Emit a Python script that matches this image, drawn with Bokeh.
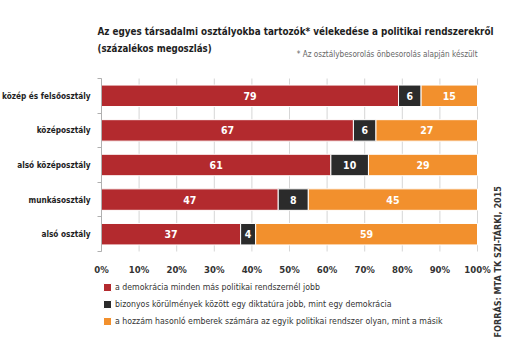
import math
from bokeh.plotting import figure
from bokeh.models import (Range1d, FixedTicker, Label, Legend, LegendItem, LinearAxis,
                          ColumnDataSource)
from bokeh.embed import file_html
from bokeh.resources import INLINE
from bokeh.core.properties import value

# ---- data ----
categories = ["közép és felsőosztály", "középosztály", "alsó középosztály",
              "munkásosztály", "alsó osztály"]
democracy = [79, 67, 61, 47, 37]
dictatorship = [6, 6, 10, 8, 4]
indifferent = [15, 27, 29, 45, 59]
series_names = [
    "a demokrácia minden más politikai rendszernél jobb",
    "bizonyos körülmények között egy diktatúra jobb, mint egy demokrácia",
    "a hozzám hasonló emberek számára az egyik politikai rendszer olyan, mint a másik",
]
x_ticks = [0, 10, 20, 30, 40, 50, 60, 70, 80, 90, 100]
tick_labels = ["0%", "10%", "20%", "30%", "40%", "50%", "60%", "70%", "80%", "90%", "100%"]
title_line1 = "Az egyes társadalmi osztályokba tartozók* vélekedése a politikai rendszerekről"
title_line2 = "(százalékos megoszlás)"
footnote = "* Az osztálybesorolás önbesorolás alapján készült"
source_note = "FORRÁS: MTA TK SZI-TÁRKI, 2015"

# ---- style / layout ----
colors = ["#b32a2e", "#2b2b2b", "#f2902d"]
FONT = "DejaVu Sans Condensed"
TXT = "#1e1e1e"
W, H = 510, 350
PLOT_L, PLOT_R, PLOT_T, PLOT_B = 101, 477, 78, 251   # pixel box of the bar area
n = len(categories)
ux = (PLOT_R - PLOT_L) / 100.0
uy = (PLOT_B - PLOT_T) / n

ypos = [n - 0.5 - i for i in range(n)]  # first category on top
keys = ["dem", "dic", "ind"]
src = ColumnDataSource(dict(y=ypos, dem=democracy, dic=dictatorship, ind=indifferent))

p = figure(width=W, height=H,
           x_range=Range1d(-PLOT_L / ux, 100 + (W - PLOT_R) / ux),
           y_range=Range1d(-(H - PLOT_B) / uy, n + PLOT_T / uy),
           x_axis_location=None, y_axis_location=None,
           output_backend="svg", toolbar_location=None, min_border=0)
p.outline_line_color = None
p.xgrid.grid_line_color = None
p.ygrid.grid_line_color = None

# vertical grid lines limited to the bar area
p.segment(x0=x_ticks, y0=[0] * len(x_ticks), x1=x_ticks, y1=[n] * len(x_ticks),
          line_color="#d6d6d6", line_width=1, level="underlay")

renderers = p.hbar_stack(keys, y="y", height=0.62, color=colors, source=src,
                         line_color="white", line_width=1)

# value labels
lx, ly, lt = [], [], []
for i in range(n):
    start = 0
    for vals in (democracy, dictatorship, indifferent):
        v = vals[i]
        lx.append(start + v / 2)
        ly.append(ypos[i])
        lt.append(str(v))
        start += v
p.text(x=lx, y=ly, text=lt, text_align="center", text_baseline="middle",
       text_color="white", text_font=value(FONT), text_font_style="bold",
       text_font_size="10.5px")

# x axis
xaxis = LinearAxis(fixed_location=0, ticker=FixedTicker(ticks=x_ticks),
                   major_label_overrides={t: l for t, l in zip(x_ticks, tick_labels)})
xaxis.axis_line_color = None
xaxis.major_tick_line_color = None
xaxis.minor_tick_line_color = None
xaxis.major_label_text_font = FONT
xaxis.major_label_text_font_style = "bold"
xaxis.major_label_text_font_size = "9.5px"
xaxis.major_label_text_color = "#333333"
xaxis.major_label_standoff = 6
p.add_layout(xaxis, "below")

# y axis (category names)
yaxis = LinearAxis(fixed_location=0, bounds=(0, n),
                   ticker=FixedTicker(ticks=ypos, minor_ticks=list(range(n + 1))),
                   major_label_overrides={y: c for y, c in zip(ypos, categories)})
yaxis.axis_line_color = "#b0b0b0"
yaxis.major_tick_line_color = None
yaxis.minor_tick_line_color = "#b0b0b0"
yaxis.minor_tick_out = 4
yaxis.minor_tick_in = 0
yaxis.major_label_text_font = FONT
yaxis.major_label_text_font_style = "bold"
yaxis.major_label_text_font_size = "8.2px"
yaxis.major_label_text_color = TXT
yaxis.major_label_standoff = 5
p.add_layout(yaxis, "left")

# legend below the bars
legend = Legend(items=[LegendItem(label=s, renderers=[r]) for s, r in zip(series_names, renderers)],
                location=(PLOT_L + 1, 23), orientation="vertical",
                glyph_width=10, glyph_height=10, label_standoff=3, spacing=5,
                label_text_font=FONT, label_text_font_size="8.7px", label_text_color="#333333",
                label_height=12, padding=0, margin=0, border_line_color=None,
                background_fill_alpha=0)
p.add_layout(legend)

# titles / notes (screen units from the bottom-left corner)
p.add_layout(Label(x=97, y=H - 31, x_units="screen", y_units="screen", text=title_line1,
                   text_font=FONT, text_font_style="bold", text_font_size="9.8px",
                   text_color=TXT, text_baseline="middle"))
p.add_layout(Label(x=97, y=H - 48, x_units="screen", y_units="screen", text=title_line2,
                   text_font=FONT, text_font_style="bold", text_font_size="9.6px",
                   text_color=TXT, text_baseline="middle"))
p.add_layout(Label(x=PLOT_R, y=H - 53, x_units="screen", y_units="screen", text=footnote,
                   text_font=FONT, text_font_size="8.1px", text_color="#666666",
                   text_baseline="middle", text_align="right"))
p.add_layout(Label(x=497, y=H - 337, x_units="screen", y_units="screen", text=source_note,
                   text_font=FONT, text_font_style="bold", text_font_size="9px",
                   text_color="#333333", text_baseline="middle", text_align="left",
                   angle=math.pi / 2))

open("out.html", "w").write(file_html(p, INLINE))
